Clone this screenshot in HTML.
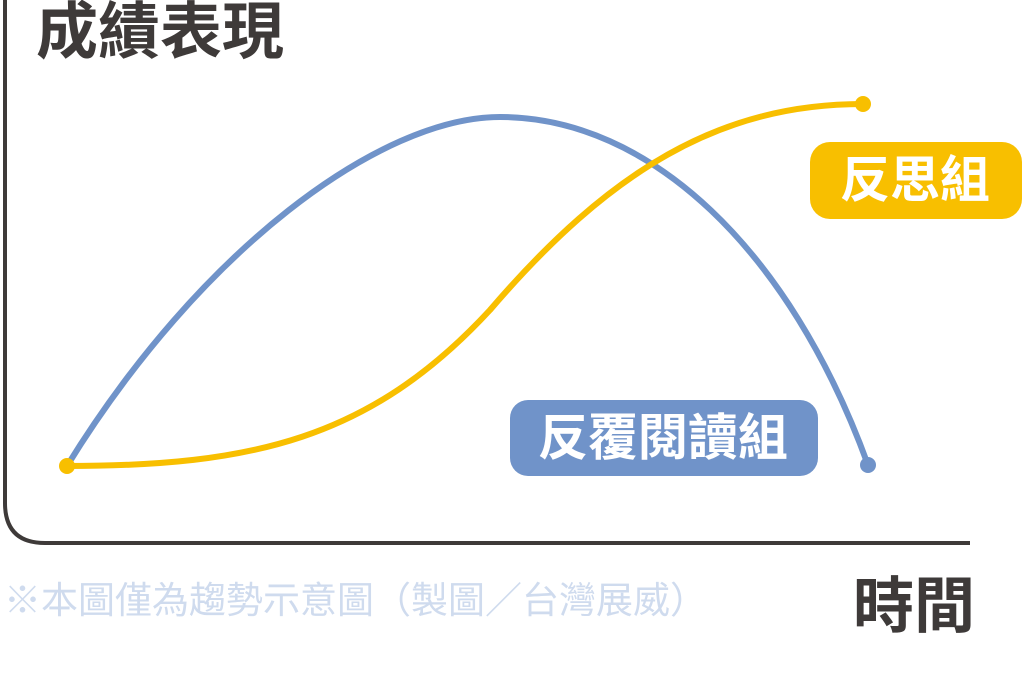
<!DOCTYPE html>
<html><head><meta charset="utf-8"><style>
body{margin:0;width:1024px;height:695px;background:#fff;overflow:hidden;position:relative;font-family:"Liberation Sans","Noto Sans CJK TC",sans-serif}
.t{position:absolute;font-weight:bold;white-space:nowrap;line-height:1}
</style></head><body>
<svg width="1024" height="695" style="position:absolute;left:0;top:0">
<path d="M5,0 V503 Q5,543 45,543 H970" fill="none" stroke="#3e3a39" stroke-width="4"/>
<path d="M67,466 C200,250 380,117 500,117 C650,117 790,250 868,465" fill="none" stroke="#7093c9" stroke-width="6"/>
<path d="M67,466 C250,466 370,440 490,310 C610,170 720,104 863,104" fill="none" stroke="#f8bf00" stroke-width="6"/>
<circle cx="868" cy="465" r="8" fill="#7093c9"/>
<circle cx="67" cy="466" r="8" fill="#f8bf00"/>
<circle cx="863" cy="104" r="8" fill="#f8bf00"/>
<rect x="810" y="142" width="212" height="77" rx="20" fill="#f8bf00"/>
<rect x="510" y="400" width="308" height="76" rx="18" fill="#7093c9"/>
</svg>
<div class="t" style="left:36px;top:2px;font-size:62px;color:#3e3a39">成績表現</div>
<div class="t" style="left:853px;top:576px;font-size:61px;color:#3e3a39">時間</div>
<div class="t" style="left:840px;top:155px;font-size:50px;color:#fff">反思組</div>
<div class="t" style="left:538px;top:413px;font-size:50px;color:#fff">反覆閱讀組</div>
<div class="t" style="left:4px;top:582px;font-size:37px;font-weight:normal;color:#cfdbee">※本圖僅為趨勢示意圖（製圖／台灣展威）</div>
</body></html>
